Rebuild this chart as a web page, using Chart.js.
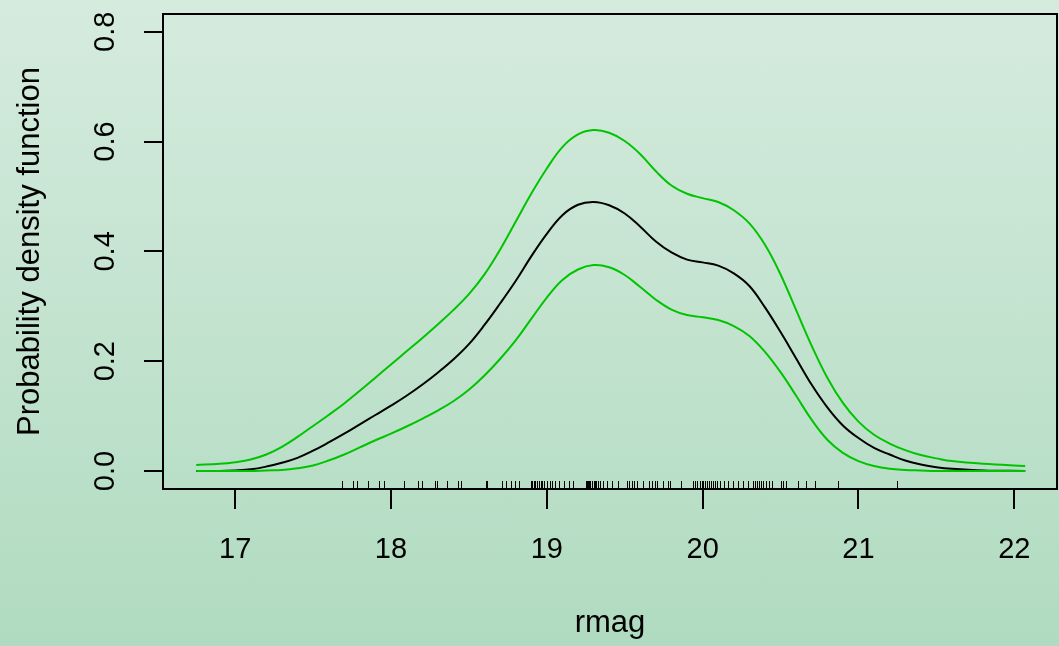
<!DOCTYPE html>
<html>
<head>
<meta charset="utf-8">
<script src="https://cdn.jsdelivr.net/npm/chart.js@4/dist/chart.umd.min.js"></script>
<style>
  html, body { margin: 0; padding: 0; }
  body {
    width: 1059px; height: 646px; overflow: hidden;
    background: linear-gradient(to bottom, #d5ebde 0%, #c3e3cf 50%, #b0dbc0 100%);
  }
  canvas { display: block; }
</style>
</head>
<body>
<canvas id="densityChart" width="1059" height="646"></canvas>
<script>
const rmagGrid = [16.75, 16.9, 17.0, 17.1, 17.2, 17.3, 17.4, 17.5, 17.6, 17.7, 17.8, 17.9, 18.0, 18.1, 18.2,
    18.3, 18.4, 18.5, 18.6, 18.7, 18.8, 18.9, 19.0, 19.1, 19.2, 19.3, 19.4, 19.5, 19.6, 19.7, 19.8, 19.9,
    20.0, 20.1, 20.2, 20.3, 20.4, 20.5, 20.6, 20.7, 20.8, 20.9, 21.0, 21.1, 21.2, 21.3, 21.4, 21.5, 21.6,
    21.8, 22.07];

// kernel density estimate (black)
const densityMid = [0.000, 0.000, 0.001, 0.003, 0.008, 0.015, 0.024, 0.037, 0.052, 0.068, 0.085, 0.102, 0.119,
    0.137, 0.157, 0.179, 0.203, 0.231, 0.266, 0.305, 0.346, 0.391, 0.432, 0.466, 0.485, 0.490, 0.484, 0.469,
    0.445, 0.418, 0.398, 0.385, 0.380, 0.374, 0.360, 0.337, 0.298, 0.253, 0.205, 0.157, 0.116, 0.083, 0.060,
    0.042, 0.030, 0.019, 0.012, 0.007, 0.004, 0.001, 0.000];

// upper and lower bands (green)
const densityUpper = [0.011, 0.013, 0.016, 0.021, 0.030, 0.044, 0.062, 0.082, 0.102, 0.123, 0.146, 0.170, 0.194,
    0.218, 0.242, 0.267, 0.293, 0.322, 0.358, 0.403, 0.454, 0.505, 0.551, 0.590, 0.613, 0.621, 0.616, 0.601,
    0.577, 0.546, 0.520, 0.505, 0.497, 0.490, 0.475, 0.451, 0.412, 0.358, 0.293, 0.228, 0.170, 0.124, 0.090,
    0.066, 0.050, 0.038, 0.029, 0.023, 0.018, 0.013, 0.009];

const densityLower = [0.000, 0.000, 0.000, 0.000, 0.001, 0.002, 0.005, 0.010, 0.019, 0.030, 0.043, 0.056, 0.068,
    0.081, 0.095, 0.110, 0.127, 0.148, 0.174, 0.204, 0.238, 0.277, 0.316, 0.348, 0.367, 0.375, 0.371, 0.357,
    0.335, 0.312, 0.294, 0.284, 0.280, 0.275, 0.264, 0.246, 0.217, 0.180, 0.137, 0.093, 0.057, 0.033, 0.018,
    0.009, 0.004, 0.002, 0.001, 0.000, 0.000, 0.000, 0.000];

// individual rmag observations (rug)
const rugValues = [17.683, 17.754, 17.779, 17.854, 17.922, 17.956, 18.083, 18.175, 18.200, 18.282, 18.297,
    18.357, 18.429, 18.449, 18.607, 18.616, 18.710, 18.736, 18.768, 18.797, 18.823,
    18.896, 18.905, 18.915, 18.925, 18.938, 18.948, 18.960, 18.972, 18.985, 19.000, 19.018, 19.035,
    19.054, 19.078, 19.108, 19.144, 19.169,
    19.251, 19.258, 19.266, 19.272, 19.280, 19.287, 19.293, 19.300, 19.310, 19.318, 19.330, 19.341,
    19.362, 19.388, 19.420, 19.454, 19.512, 19.529, 19.544, 19.559, 19.576, 19.615, 19.657, 19.673,
    19.694, 19.709, 19.743, 19.779, 19.790, 19.859, 19.936, 19.951, 19.965,
    19.983, 19.994, 20.005, 20.015, 20.028, 20.040, 20.052, 20.064, 20.078, 20.090,
    20.111, 20.137, 20.164, 20.196, 20.228, 20.257, 20.293,
    20.325, 20.338, 20.350, 20.362, 20.375, 20.389,
    20.406, 20.425, 20.447, 20.503, 20.517, 20.533, 20.614, 20.661, 20.721, 20.870, 21.245];

const xTicks = [17, 18, 19, 20, 21, 22];
const yTicks = [0.0, 0.2, 0.4, 0.6, 0.8];

const FONT = '"Liberation Sans", Arial, Helvetica, sans-serif';
const GREEN = '#00c400';

const toPoints = ys => rmagGrid.map((x, i) => ({ x: x, y: ys[i] }));

// R-style frame, rug and rotated y labels
const rStylePlugin = {
    id: 'rStyle',
    afterDatasetsDraw(chart) {
        const ctx = chart.ctx;
        const area = chart.chartArea;
        const xs = chart.scales.x;
        const ys = chart.scales.y;

        ctx.save();
        ctx.strokeStyle = '#000';
        ctx.lineWidth = 1;
        rugValues.forEach(v => {
            const px = Math.round(xs.getPixelForValue(v)) + 0.5;
            ctx.beginPath();
            ctx.moveTo(px, area.bottom - 8);
            ctx.lineTo(px, area.bottom);
            ctx.stroke();
        });

        ctx.lineWidth = 2;
        ctx.strokeRect(area.left, area.top, area.right - area.left, area.bottom - area.top);

        ctx.fillStyle = '#000';
        ctx.font = '29px ' + FONT;
        ctx.textAlign = 'center';
        ctx.textBaseline = 'middle';
        yTicks.forEach(v => {
            const py = ys.getPixelForValue(v);
            ctx.save();
            ctx.translate(106, py);
            ctx.rotate(-Math.PI / 2);
            ctx.fillText(v.toFixed(1), 0, 0);
            ctx.restore();
        });
        ctx.restore();
    }
};

new Chart(document.getElementById('densityChart').getContext('2d'), {
    type: 'line',
    data: {
        datasets: [
            { label: 'upper', data: toPoints(densityUpper), borderColor: GREEN },
            { label: 'lower', data: toPoints(densityLower), borderColor: GREEN },
            { label: 'density', data: toPoints(densityMid), borderColor: '#000' }
        ]
    },
    options: {
        responsive: false,
        animation: false,
        devicePixelRatio: 1,
        layout: { padding: { top: 14, right: 2, left: 0, bottom: 0 } },
        elements: {
            point: { radius: 0 },
            line: { borderWidth: 2, tension: 0.4, fill: false }
        },
        plugins: {
            legend: { display: false },
            tooltip: { enabled: false }
        },
        scales: {
            x: {
                type: 'linear',
                min: 16.537,
                max: 22.274,
                afterBuildTicks: s => { s.ticks = xTicks.map(v => ({ value: v })); },
                afterFit: s => { s.height = 157; },
                grid: { drawOnChartArea: false, drawTicks: true, tickLength: 20, color: '#000', lineWidth: 2 },
                border: { display: false },
                ticks: { color: '#000', font: { family: FONT, size: 29 }, padding: 24, maxRotation: 0 },
                title: { display: true, text: 'rmag', color: '#000', font: { family: FONT, size: 31 }, padding: { top: 0, bottom: 4 } }
            },
            y: {
                type: 'linear',
                min: -0.0328,
                max: 0.8324,
                afterBuildTicks: s => { s.ticks = yTicks.map(v => ({ value: v })); },
                afterFit: s => { s.width = 163; },
                grid: { drawOnChartArea: false, drawTicks: true, tickLength: 19, color: '#000', lineWidth: 2 },
                border: { display: false },
                ticks: { display: false },
                title: { display: true, text: 'Probability density function', color: '#000', font: { family: FONT, size: 31 }, padding: { top: 12, bottom: 0 } }
            }
        }
    },
    plugins: [rStylePlugin]
});
</script>
</body>
</html>
